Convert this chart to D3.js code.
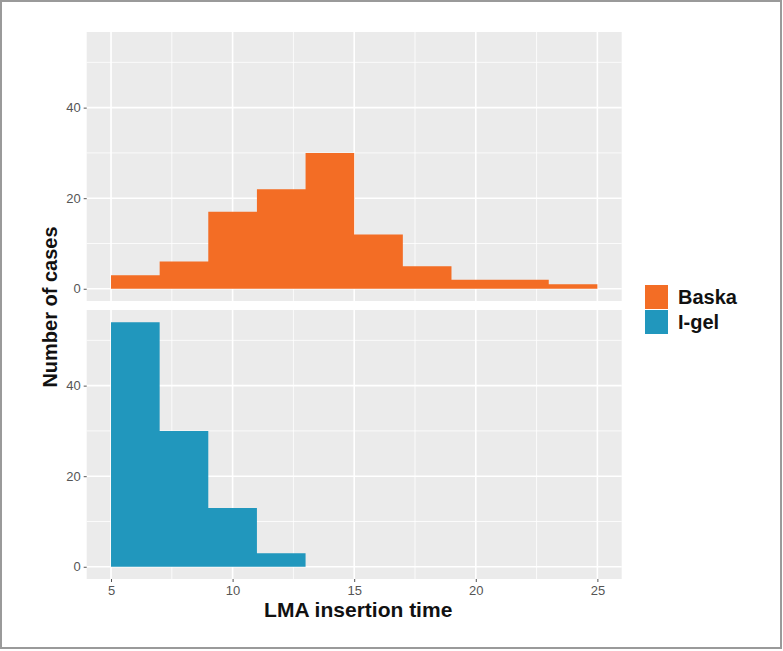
<!DOCTYPE html>
<html>
<head>
<meta charset="utf-8">
<script src="https://cdn.jsdelivr.net/npm/d3@7"></script>
<style>
  body { margin: 0; background: #fff; }
  svg { display: block; font-family: "Liberation Sans", Arial, sans-serif; }
</style>
</head>
<body>
<svg id="vue" width="783" height="651"></svg>
<script>
// données
var groups = ["Baska", "I-gel"];
var colors = ["#F36D25", "#2197BD"];
var binEdges = [5, 7, 9, 11, 13, 15, 17, 19, 21, 23, 25];
var baskaCounts = [3, 6, 17, 22, 30, 12, 5, 2, 2, 1];
var igelCounts = [54, 30, 13, 3, 0, 0, 0, 0, 0, 0];
var xTicks = [5, 10, 15, 20, 25];
var xMinor = [7.5, 12.5, 17.5, 22.5];
var yTicks = [0, 20, 40];
var yMinor = [10, 30, 50];

var series = [baskaCounts, igelCounts];

var svg = d3.select("#vue");

// cadre de l'image
svg.append("rect")
  .attr("x", 1).attr("y", 1)
  .attr("width", 780).attr("height", 647)
  .attr("fill", "none")
  .attr("stroke", "#9a9a9a")
  .attr("stroke-width", 2);

var left = 86.7, right = 621.7;
var panelH = 269;
var panelTops = [32, 310];

var x = d3.scaleLinear().domain([4, 26]).range([left, right]);
var ymax = d3.max(series, function (s) { return d3.max(s); });
var pad = ymax * 0.05;

series.forEach(function (counts, k) {
  var top = panelTops[k];
  var y = d3.scaleLinear().domain([-pad, ymax + pad]).range([top + panelH, top]);
  var g = svg.append("g");

  // fond du panneau
  g.append("rect")
    .attr("x", left).attr("y", top)
    .attr("width", right - left).attr("height", panelH)
    .attr("fill", "#EBEBEB");

  // grille mineure
  g.selectAll("line.vmin").data(xMinor).enter().append("line")
    .attr("x1", x).attr("x2", x)
    .attr("y1", top).attr("y2", top + panelH)
    .attr("stroke", "#fff").attr("stroke-width", 0.8);
  g.selectAll("line.hmin").data(yMinor).enter().append("line")
    .attr("y1", y).attr("y2", y)
    .attr("x1", left).attr("x2", right)
    .attr("stroke", "#fff").attr("stroke-width", 0.8);

  // grille majeure
  g.selectAll("line.vmaj").data(xTicks).enter().append("line")
    .attr("x1", x).attr("x2", x)
    .attr("y1", top).attr("y2", top + panelH)
    .attr("stroke", "#fff").attr("stroke-width", 1.6);
  g.selectAll("line.hmaj").data(yTicks).enter().append("line")
    .attr("y1", y).attr("y2", y)
    .attr("x1", left).attr("x2", right)
    .attr("stroke", "#fff").attr("stroke-width", 1.6);

  // barres de l'histogramme (un chemin par groupe, pas de jointures visibles)
  var pts = [];
  counts.forEach(function (d, i) {
    pts.push([x(binEdges[i]), y(d)]);
    pts.push([x(binEdges[i + 1]), y(d)]);
  });
  var poly = [[x(binEdges[0]), y(0)]].concat(pts, [[x(binEdges[binEdges.length - 1]), y(0)]]);
  g.append("path")
    .attr("d", d3.line()(poly) + "Z")
    .attr("fill", colors[k]);

  // axe y
  var ay = g.append("g")
    .attr("transform", "translate(" + left + ",0)")
    .call(d3.axisLeft(y).tickValues(yTicks).tickSize(3).tickPadding(3));
  ay.select(".domain").remove();
  ay.selectAll("line").attr("stroke", "#555");
  ay.selectAll("text").attr("fill", "#555").style("font-size", "13px");

  if (k === series.length - 1) {
    var ax = g.append("g")
      .attr("transform", "translate(0," + (top + panelH) + ")")
      .call(d3.axisBottom(x).tickValues(xTicks).tickSize(3).tickPadding(4));
    ax.select(".domain").remove();
    ax.selectAll("line").attr("stroke", "#555");
    ax.selectAll("text").attr("fill", "#555").style("font-size", "13px");
  }
});

// titres des axes
svg.append("text")
  .attr("x", (left + right) / 2 + 4)
  .attr("y", 617)
  .attr("text-anchor", "middle")
  .style("font-size", "21px")
  .style("font-weight", "bold")
  .attr("fill", "#111")
  .text("LMA insertion time");

svg.append("text")
  .attr("transform", "translate(57,307) rotate(-90)")
  .attr("text-anchor", "middle")
  .style("font-size", "20px")
  .style("font-weight", "bold")
  .attr("fill", "#111")
  .text("Number of cases");

// légende
var legend = svg.append("g").attr("transform", "translate(645,285)");
groups.forEach(function (name, i) {
  legend.append("rect")
    .attr("x", 0).attr("y", i * 25)
    .attr("width", 23).attr("height", 24)
    .attr("fill", colors[i]);
  legend.append("text")
    .attr("x", 33).attr("y", i * 25 + 19)
    .style("font-size", "20px")
    .style("font-weight", "bold")
    .attr("fill", "#111")
    .text(name);
});
</script>
</body>
</html>
